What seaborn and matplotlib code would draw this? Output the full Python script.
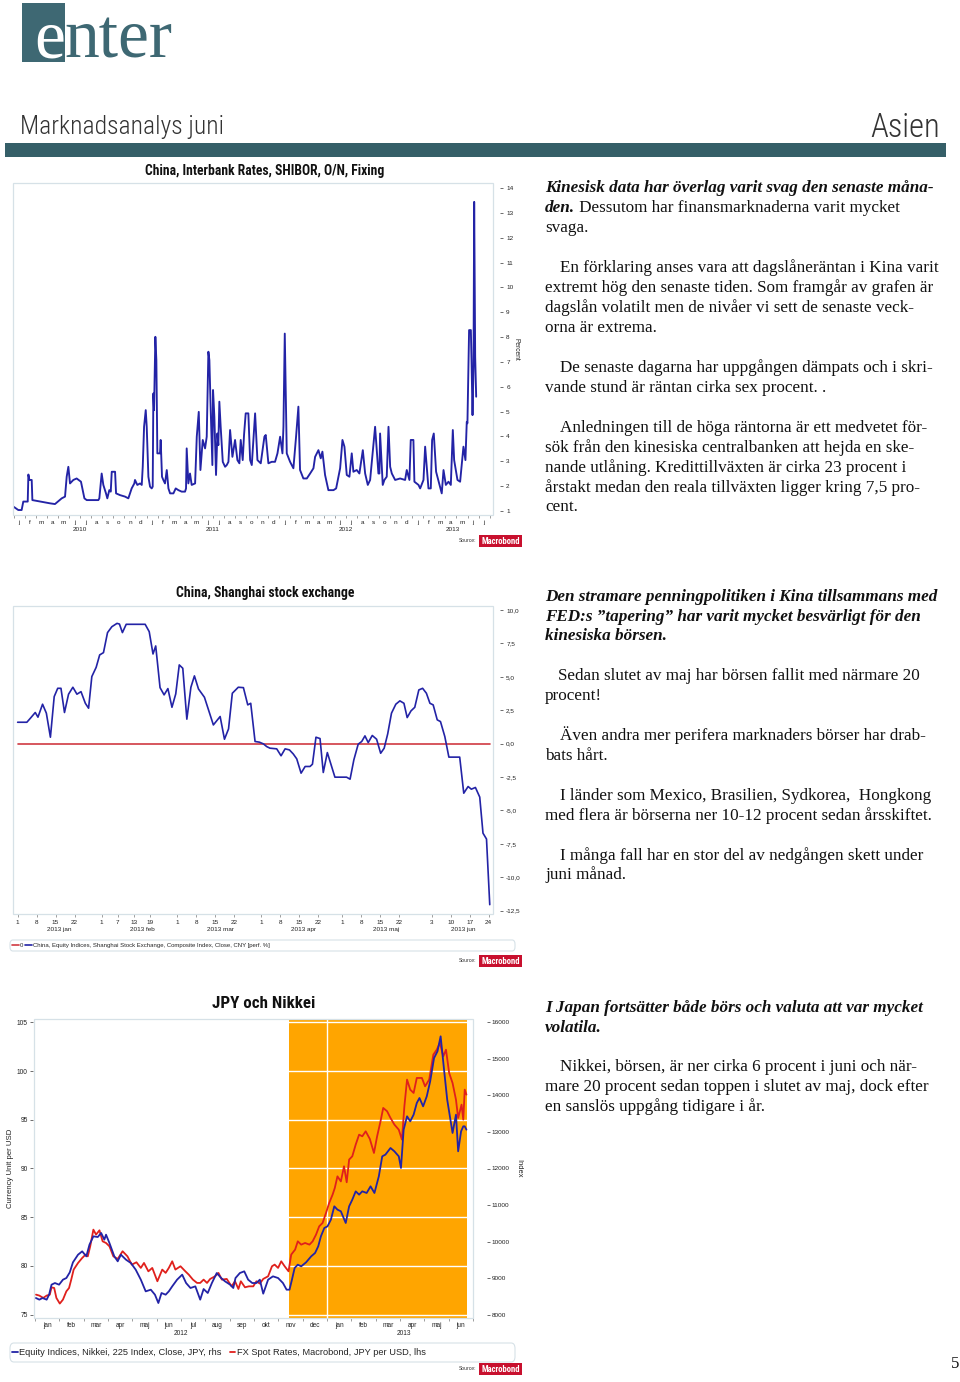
import matplotlib
matplotlib.use("Agg")
import matplotlib.pyplot as plt
import seaborn as sns
from matplotlib import font_manager
from matplotlib.font_manager import FontProperties
from matplotlib.patches import Rectangle, FancyBboxPatch

# ---------------- DATA ----------------
# Chart 1: China SHIBOR O/N fixing; x = months since 1 Jan 2010, y = percent
SHIBOR_MONTH = [0.0, 0.42, 0.72, 0.87, 1.27, 1.33, 1.42, 1.63, 1.69, 3.28, 3.73, 4.34, 4.64, 4.79, 4.94,
                5.09, 5.39, 5.69, 6.08, 6.39, 6.60, 7.65, 7.74, 7.95, 8.10, 8.34, 8.46, 8.64, 8.77, 8.86,
                9.16, 9.25, 9.61, 10.06, 10.36, 10.66, 10.90, 10.96, 11.17, 11.42, 11.57, 11.66, 11.78,
                11.93, 12.02, 12.17, 12.32, 12.47, 12.56, 12.62, 12.68, 12.80, 12.89, 12.98, 13.22, 13.28,
                13.40, 13.52, 13.67, 13.83, 13.98, 14.13, 14.43, 14.64, 14.88, 15.18, 15.48, 15.57, 15.63,
                15.78, 15.93, 16.08, 16.39, 16.54, 16.72, 16.87, 17.08, 17.29, 17.44, 17.59, 17.68, 17.80,
                17.95, 18.01, 18.13, 18.28, 18.40, 18.49, 18.58, 18.70, 18.89, 19.10, 19.25, 19.40, 19.55,
                19.76, 20.00, 20.21, 20.39, 20.51, 20.69, 20.81, 20.96, 21.20, 21.36, 21.51, 21.81, 22.02,
                22.32, 22.65, 22.77, 23.01, 23.31, 23.61, 23.83, 24.07, 24.28, 24.37, 24.49, 24.67, 24.97,
                25.27, 25.51, 25.72, 25.87, 26.17, 26.48, 26.78, 27.08, 27.23, 27.53, 27.74, 27.89, 28.13,
                28.43, 28.89, 29.13, 29.34, 29.49, 29.70, 29.88, 30.09, 30.33, 30.54, 30.69, 30.99, 31.23,
                31.54, 31.75, 31.99, 32.20, 32.65, 32.95, 33.04, 33.10, 33.34, 33.49, 33.70, 33.86, 34.01,
                34.16, 34.46, 34.91, 35.36, 35.51, 35.75, 35.87, 36.11, 36.20, 36.57, 36.72, 37.02, 37.17,
                37.47, 37.68, 37.80, 37.95, 38.16, 38.67, 38.83, 39.04, 39.28, 39.49, 39.67, 39.79, 40.09,
                40.33, 40.63, 40.81, 40.93, 40.99, 41.14, 41.30, 41.36, 41.45, 41.54, 41.60, 41.69, 41.78]
SHIBOR_RATE = [1.17, 1.04, 1.04, 1.38, 1.38, 2.47, 2.25, 2.25, 1.44, 1.31, 1.28, 1.51, 1.58, 2.38, 2.78,
               2.11, 2.25, 2.31, 2.18, 1.51, 1.44, 1.44, 1.51, 2.51, 2.05, 1.71, 1.51, 1.84, 1.78, 2.58,
               2.58, 1.71, 1.64, 1.58, 1.51, 1.91, 2.11, 2.25, 2.05, 2.11, 2.05, 2.78, 4.39,
               5.06, 4.39, 2.38, 1.98, 1.91, 1.98, 5.73, 5.06, 8.01, 7.07, 3.32, 3.32, 3.86,
               2.38, 2.25, 2.11, 2.65, 1.91, 1.71, 1.71, 1.91, 1.84, 1.78, 1.78, 1.91, 3.52,
               2.11, 2.51, 2.05, 2.11, 3.99, 4.99, 2.65, 3.86, 3.52, 3.99, 7.41, 7.07, 5.06,
               2.85, 5.87, 4.79, 2.45, 4.12, 3.65, 5.40, 4.39, 2.98, 2.78, 2.85, 2.98, 4.26,
               3.18, 3.86, 3.05, 2.92, 3.86, 3.05, 4.06, 4.93, 4.93, 3.05, 2.85, 4.93, 3.05,
               2.92, 3.99, 4.06, 2.92, 2.98, 2.98, 3.32, 3.99, 3.32, 4.39, 8.14, 3.32, 2.98,
               2.72, 3.99, 5.20, 2.65, 2.31, 2.31, 2.51, 2.72, 3.18, 3.45, 3.12, 3.39, 2.45,
               1.84, 1.84, 1.91, 2.38, 2.72, 3.86, 3.59, 2.45, 2.38, 3.32, 2.58, 2.65, 2.51,
               3.45, 2.51, 2.05, 2.25, 4.39, 2.51, 2.51, 4.12, 2.05, 2.25, 2.38, 4.39, 2.78,
               2.51, 2.25, 2.31, 2.25, 2.65, 2.25, 3.86, 3.86, 2.18, 2.05, 1.91, 2.25, 3.59,
               1.91, 1.91, 3.86, 4.12, 2.58, 1.71, 2.65, 2.05, 2.18, 2.05, 4.26, 3.05, 2.25,
               2.18, 3.59, 3.05, 4.59, 4.53, 8.28, 8.28, 7.07, 4.86, 6.80, 13.44, 7.21, 5.60]
SHIBOR_MONTH_LETTERS = ["j", "f", "m", "a", "m", "j", "j", "a", "s", "o", "n", "d"]
SHIBOR_YEARS = ["2010", "2011", "2012", "2013"]
SHIBOR_YTICKS = [1, 2, 3, 4, 5, 6, 7, 8, 9, 10, 11, 12, 13, 14]

# Chart 2: Shanghai composite, performance % ; x = days since 1 Jan 2013
SSE_DAY = [0.0, 3.4, 4.7, 6.5, 7.5, 9.2, 10.6, 12.1, 13.5, 14.8, 16.0, 17.3, 18.8, 20.4, 21.9, 23.4,
           25.0, 26.2, 27.4, 29.0, 30.3, 31.7, 33.2, 34.8, 36.7, 37.6, 38.7, 40.1, 47.1, 48.6, 50.0,
           51.0, 52.6, 54.1, 55.5, 57.0, 58.4, 59.7, 61.0, 62.5, 64.0, 65.3, 66.8, 69.0, 72.3, 74.8,
           76.4, 77.9, 79.3, 81.5, 83.4, 85.0, 86.1, 87.7, 89.3, 90.8, 92.0, 93.2, 95.7, 97.3, 98.8,
           100.4, 101.8, 103.1, 104.7, 106.2, 108.0, 108.9, 110.2, 111.7, 112.9, 114.4, 117.2, 121.5,
           122.8, 124.2, 125.8, 127.1, 128.3, 129.5, 131.0, 132.6, 134.1, 135.4, 136.7, 138.1, 139.7,
           141.2, 142.7, 143.9, 145.3, 146.7, 148.2, 149.6, 151.0, 152.3, 153.5, 155.0, 156.2, 157.8,
           159.3, 163.3, 164.8, 166.4, 167.6, 169.1, 170.7, 171.9, 173.2, 174.4]
SSE_PERF = [1.60, 1.60, 1.90, 2.33, 1.98, 2.95, 2.28, 0.48, 3.52, 4.14, 4.14, 2.33, 3.70, 4.22, 3.70, 3.89,
            3.02, 2.65, 5.02, 5.71, 6.64, 6.81, 8.31, 8.75, 9.00, 8.95, 8.31, 8.93, 8.93, 8.38, 6.71,
            7.31, 4.19, 3.65, 4.12, 2.72, 3.72, 5.89, 5.64, 1.83, 4.22, 5.07, 4.09, 3.47, 1.40, 2.03,
            0.33, 1.10, 3.77, 4.22, 4.19, 2.90, 3.02, 0.16, 0.11, -0.02, -0.22, -0.34, -0.39, -0.91, -0.39,
            -0.47, -0.77, -1.14, -2.21, -1.71, -1.71, -1.54, 0.48, 0.38, -2.16, -0.67, -2.51, -2.51,
            -2.66, -1.21, -0.04, 0.16, 0.58, 0.08, 0.61, 0.33, -0.72, -0.34, 0.73, 2.28, 2.95,
            3.20, 3.02, 1.95, 2.45, 2.72, 4.02, 4.14, 3.77, 3.02, 2.90, 1.78, 1.65, 0.53,
            -1.01, -1.01, -3.71, -3.21, -3.41, -3.28, -4.00, -6.70, -7.14, -12.05]
ZERO_DAY = [0.0, 174.4]
ZERO_VAL = [0.0, 0.0]
SSE_TICK_DAYS = [0, 7, 14, 21, 31, 37, 43, 49, 59, 66, 73, 80, 90, 97, 104, 111, 120, 127, 134, 141,
                 153, 160, 167, 174]
SSE_TICK_LABELS = ["1", "8", "15", "22", "1", "7", "13", "19", "1", "8", "15", "22", "1", "8", "15", "22",
                   "1", "8", "15", "22", "3", "10", "17", "24"]
SSE_MONTH_LABELS = ["2013 jan", "2013 feb", "2013 mar", "2013 apr", "2013 maj", "2013 jun"]
SSE_MONTH_CENTER = [15.5, 46.0, 75.0, 105.5, 136.0, 164.5]
SSE_YTICKS = [10.0, 7.5, 5.0, 2.5, 0.0, -2.5, -5.0, -7.5, -10.0, -12.5]

# Chart 3: JPY per USD (lhs) and Nikkei 225 (rhs); x = months since 1 Jan 2012
JPY_MONTH = [0.04, 0.18, 0.34, 0.48, 0.61, 0.68, 0.79, 0.88, 1.02, 1.15, 1.29, 1.40, 1.49, 1.59, 1.77, 1.94,
             2.08, 2.17, 2.27, 2.40, 2.51, 2.65, 2.78, 2.92, 3.06, 3.22, 3.40, 3.60, 3.80, 3.98, 4.17,
             4.35, 4.48, 4.66, 4.82, 5.03, 5.23, 5.37, 5.50, 5.64, 5.77, 5.98, 6.18, 6.32, 6.49, 6.66,
             6.79, 6.93, 7.07, 7.20, 7.40, 7.54, 7.68, 7.88, 8.08, 8.22, 8.36, 8.46, 8.63, 8.79, 8.97,
             9.10, 9.24, 9.38, 9.58, 9.74, 9.85, 9.99, 10.12, 10.26, 10.42, 10.53, 10.69, 10.80, 10.94,
             11.10, 11.28, 11.41, 11.55, 11.68, 11.82, 11.96, 12.09, 12.23, 12.32, 12.43, 12.57, 12.70,
             12.81, 12.91, 13.04, 13.18, 13.32, 13.45, 13.59, 13.76, 13.93, 14.06, 14.20, 14.31, 14.47,
             14.61, 14.77, 14.95, 15.08, 15.18, 15.29, 15.42, 15.56, 15.69, 15.90, 16.03, 16.20, 16.37,
             16.51, 16.64, 16.78, 16.89, 17.02, 17.16, 17.30, 17.39, 17.53, 17.60, 17.66, 17.73]
JPY_RATE = [77.05, 76.95, 76.71, 76.95, 77.05, 77.80, 77.73, 76.71, 76.13, 76.54, 77.39, 77.73, 78.59, 79.62,
            80.30, 80.81, 81.16, 80.98, 82.01, 83.72, 83.21, 83.65, 82.52, 82.35, 82.01, 80.98, 80.71,
            81.50, 80.98, 80.13, 80.37, 79.79, 80.30, 79.44, 79.79, 78.42, 79.62, 79.28, 79.79, 80.47,
            79.62, 79.96, 79.44, 79.10, 78.59, 78.25, 78.25, 78.59, 78.25, 78.66, 78.93, 79.28, 78.59,
            78.66, 77.90, 78.42, 77.63, 78.42, 77.80, 77.90, 77.90, 78.42, 78.18, 78.66, 78.93, 79.96,
            80.13, 79.79, 80.47, 79.96, 79.44, 81.16, 81.67, 82.52, 82.18, 82.35, 82.18, 82.52, 83.21,
            84.06, 84.41, 85.43, 86.46, 87.31, 87.99, 89.19, 88.67, 90.22, 88.58, 90.91, 91.25, 92.45,
            93.47, 93.30, 93.81, 93.03, 91.59, 93.30, 94.84, 96.21, 95.87, 95.18, 94.50, 93.98, 92.96,
            96.38, 99.12, 98.09, 97.75, 99.29, 99.29, 98.43, 99.12, 101.68, 102.19, 102.88, 101.51,
            102.19, 99.80, 98.77, 97.06, 95.18, 96.55, 95.01, 98.09, 97.58]
NIKKEI_MONTH = [0.04, 0.18, 0.31, 0.48, 0.58, 0.68, 0.82, 0.99, 1.15, 1.29, 1.43, 1.56, 1.77, 1.94, 2.11,
                2.24, 2.40, 2.58, 2.72, 2.85, 2.92, 3.06, 3.26, 3.40, 3.53, 3.74, 3.94, 4.14, 4.35, 4.55,
                4.76, 4.93, 5.07, 5.20, 5.37, 5.50, 5.64, 5.84, 6.05, 6.21, 6.39, 6.59, 6.79, 6.93, 7.10,
                7.27, 7.47, 7.65, 7.81, 8.02, 8.15, 8.24, 8.42, 8.60, 8.76, 8.93, 9.10, 9.24, 9.38, 9.58,
                9.78, 9.99, 10.19, 10.34, 10.46, 10.56, 10.67, 10.80, 10.94, 11.14, 11.35, 11.51, 11.64,
                11.75, 11.89, 12.02, 12.16, 12.30, 12.43, 12.57, 12.77, 12.91, 13.04, 13.18, 13.32, 13.45,
                13.63, 13.79, 13.95, 14.13, 14.27, 14.40, 14.61, 14.77, 14.95, 15.04, 15.15, 15.29, 15.42,
                15.56, 15.69, 15.80, 15.95, 16.10, 16.24, 16.40, 16.54, 16.67, 16.81, 16.94, 17.05, 17.16,
                17.30, 17.39, 17.51, 17.60, 17.66, 17.73]
NIKKEI_INDEX = [8456, 8411, 8456, 8411, 8547, 8821, 8866, 8821, 8958, 9003, 9158, 9432, 9642, 9733, 9596,
                9916, 10144, 10125, 10235, 10053, 10189, 9961, 9596, 9460, 9642, 9505, 9414, 9231, 8958,
                8638, 8684, 8547, 8319, 8593, 8547, 8638, 8775, 8958, 9095, 8866, 8730, 8775, 8411, 8702,
                8593, 8866, 9140, 9003, 8912, 8821, 8730, 9003, 9140, 9186, 8958, 8866, 8866, 8958, 8575,
                8958, 9049, 9003, 8866, 8684, 8684, 8958, 9277, 9368, 9323, 9432, 9596, 9688, 9870, 10144,
                10372, 10417, 10600, 10965, 10874, 10828, 10509, 10965, 11147, 11375, 11284, 11375, 11330,
                11512, 11330, 11786, 12333, 12379, 12561, 12470, 12333, 12014, 13063, 13428, 13291, 13473,
                13792, 13929, 13701, 13975, 14385, 15024, 15206, 15617, 14705, 13884, 13428, 12972, 13473,
                12470, 13017, 13154, 13154, 13063]
JN_MONTHS = ["jan", "feb", "mar", "apr", "maj", "jun", "jul", "aug", "sep", "okt", "nov", "dec",
             "jan", "feb", "mar", "apr", "maj", "jun"]
JN_YEARS = ["2012", "2013"]
JPY_YTICKS = [75, 80, 85, 90, 95, 100, 105]
NIKKEI_YTICKS = [8000, 9000, 10000, 11000, 12000, 13000, 14000, 15000, 16000]
SHADE_START = 10.45   # mid-November 2012
SHADE_END = 17.76

# ---------------- STYLE ----------------
sns.set_theme(style="white")
plt.rcParams["font.family"] = ["Liberation Sans", "DejaVu Sans"]
SANS = "Liberation Sans"
SERIF = "Liberation Serif"


def _w(f):
    w = f.weight
    if isinstance(w, str):
        w = font_manager.weight_dict.get(w, 400)
    return int(w)


def find_font(names, weights, stretches, fallback_family, fallback_weight):
    for stretch_pref in stretches:
        for name in names:
            for f in font_manager.fontManager.ttflist:
                if (f.name == name and f.style == "normal" and _w(f) in weights
                        and str(f.stretch) == stretch_pref):
                    return FontProperties(fname=f.fname)
    return FontProperties(family=fallback_family, weight=fallback_weight)


CAND = ["Liberation Sans Narrow", "Roboto Condensed", "Open Sans Condensed", "Noto Sans", "Open Sans",
        "Roboto", "Lato", "Inter", "DejaVu Sans"]
NARROW_BOLD = find_font(CAND, (700,), ["condensed", "semi-condensed", "extra-condensed"], SANS, "bold")
LIGHT = find_font(CAND, (200, 300), ["condensed", "semi-condensed", "normal"], SANS, "normal")

W, H = 960, 1382
fig = plt.figure(figsize=(W / 100, H / 100), dpi=100)
fig.patch.set_facecolor("white")
renderer = fig.canvas.get_renderer()

BLUE = "#2323a6"
RED = "#e0201c"
RED2 = "#d03a42"
TEAL = "#3e6873"
BAR = "#355f68"
FRAME = "#d6e1e7"
TXT = "#222222"


def fx(x):
    return x / W


def fy(y):
    return 1 - y / H


def px_axes(x0, y0, x1, y1):
    return fig.add_axes([fx(x0), fy(y1), (x1 - x0) / W, (y1 - y0) / H])


def fit_text(x, y, s, width_px, fp, **kw):
    """Place a text and scale its size so it spans width_px pixels."""
    fp = fp.copy()
    fp.set_size(10)
    t = fig.text(fx(x), fy(y), s, fontproperties=fp, **kw)
    w = t.get_window_extent(renderer=renderer).width
    fp.set_size(10 * width_px / w)
    t.set_fontproperties(fp)
    return t


def frame(ax):
    for s in ax.spines.values():
        s.set_visible(False)
    ax.add_patch(Rectangle((0, 0), 1, 1, transform=ax.transAxes, fill=False,
                           edgecolor=FRAME, lw=0.9, clip_on=False, zorder=5))


def badge(ytop):
    fig.patches.append(Rectangle((fx(479), fy(ytop + 12)), 43 / W, 12 / H,
                                 transform=fig.transFigure, facecolor="#c8102e",
                                 edgecolor="none"))
    fit_text(500.5, ytop + 6, "Macrobond", 39, NARROW_BOLD, color="white", ha="center",
             va="center")
    fig.text(fx(476), fy(ytop + 6), "Source:", color="#333333", fontsize=3.6,
             family=SANS, ha="right", va="center")


# ---------------- HEADER ----------------
fig.patches.append(Rectangle((fx(22), fy(62)), 43 / W, 59 / H, transform=fig.transFigure,
                             facecolor=TEAL, edgecolor="none"))
te = fig.text(fx(34), fy(57), "e", color="white", fontsize=50, family=SERIF, va="baseline")
ew = te.get_window_extent(renderer=renderer).width
fig.text(fx(34) + ew / W, fy(57), "nter", color=TEAL, fontsize=50, family=SERIF, va="baseline")
fit_text(20, 134, "Marknadsanalys juni", 203, LIGHT, color="#333333", va="baseline")
fit_text(870, 137, "Asien", 70, LIGHT, color="#333333", va="baseline")
fig.patches.append(Rectangle((fx(5), fy(157)), 941 / W, 14 / H, transform=fig.transFigure,
                             facecolor=BAR, edgecolor="none"))

# ---------------- CHART 1 ----------------
fit_text(265, 171, "China, Interbank Rates, SHIBOR, O/N, Fixing", 240, NARROW_BOLD, ha="center",
         va="center", color="#111111")
ax1 = px_axes(13, 183, 493, 515)
sns.lineplot(x=SHIBOR_MONTH, y=SHIBOR_RATE, ax=ax1, color=BLUE, linewidth=1.35,
             estimator=None, sort=False)
ax1.set_xlim(-0.06, 43.3)
ax1.set_ylim(0.84, 14.2)
frame(ax1)
ax1.yaxis.tick_right()
ax1.spines["right"].set_position(("outward", 5))
ax1.set_yticks(SHIBOR_YTICKS)
ax1.set_yticklabels([str(v) for v in SHIBOR_YTICKS])
ax1.tick_params(axis="y", which="major", length=2.5, width=0.6, color="#555555", pad=2,
                labelsize=4.6, labelcolor=TXT, right=True, left=False)
ax1.set_xticks([k + 0.5 for k in range(43)])
ax1.set_xticklabels([SHIBOR_MONTH_LETTERS[k % 12] for k in range(43)])
ax1.set_xticks(list(range(44)), minor=True)
ax1.tick_params(axis="x", which="major", length=0, pad=3.5, labelsize=4.6, labelcolor=TXT,
                bottom=True)
ax1.tick_params(axis="x", which="minor", length=2, width=0.5, color="#777777", bottom=True)
for i, yr in enumerate(SHIBOR_YEARS):
    xc = 12 * i + 6 if i < 3 else (36 + 43.3) / 2
    ax1.text(xc, -0.043, yr, transform=ax1.get_xaxis_transform(), ha="center", va="center",
             fontsize=4.6, color=TXT)
ax1.set_xlabel("")
ax1.set_ylabel("")
ax1.text(1.048, 0.5, "Percent", rotation=270, transform=ax1.transAxes, ha="center", va="center",
         fontsize=4.8, color=TXT)
badge(535)

# ---------------- CHART 2 ----------------
fit_text(265, 593, "China, Shanghai stock exchange", 177, NARROW_BOLD, ha="center", va="center",
         color="#111111")
ax2 = px_axes(13, 606, 493, 914)
sns.lineplot(x=ZERO_DAY, y=ZERO_VAL, ax=ax2, color=RED2, linewidth=1.2, estimator=None,
             sort=False, label="0", legend=False)
zero_line = ax2.lines[-1]
sns.lineplot(x=SSE_DAY, y=SSE_PERF, ax=ax2, color=BLUE, linewidth=1.2, estimator=None, sort=False,
             label="China, Equity Indices, Shanghai Stock Exchange, Composite Index, Close, CNY [perf. %]",
             legend=False)
sse_line = ax2.lines[-1]
ax2.set_xlim(-1.72, 175.6)
ax2.set_ylim(-12.75, 10.3)
frame(ax2)
ax2.yaxis.tick_right()
ax2.spines["right"].set_position(("outward", 5))
ax2.set_yticks(SSE_YTICKS)
ax2.set_yticklabels([f"{v:.1f}".replace(".", ",") for v in SSE_YTICKS])
ax2.tick_params(axis="y", length=2.5, width=0.6, color="#555555", pad=2, labelsize=4.6,
                labelcolor=TXT, right=True, left=False)
ax2.set_xticks(SSE_TICK_DAYS)
ax2.set_xticklabels(SSE_TICK_LABELS)
ax2.tick_params(axis="x", length=2, width=0.5, color="#777777", pad=2, labelsize=4.6,
                labelcolor=TXT, bottom=True)
for lab, xc in zip(SSE_MONTH_LABELS, SSE_MONTH_CENTER):
    ax2.text(xc, -0.05, lab, transform=ax2.get_xaxis_transform(), ha="center", va="center",
             fontsize=4.6, color=TXT)
ax2.set_xlabel("")
ax2.set_ylabel("")
fig.patches.append(FancyBboxPatch((fx(10), fy(951)), 505 / W, 11 / H, transform=fig.transFigure,
                                  boxstyle="round,pad=0,rounding_size=0.003", facecolor="white",
                                  edgecolor=FRAME, lw=0.8))
fig.legend(handles=[zero_line, sse_line], labels=[zero_line.get_label(), sse_line.get_label()],
           loc="center left", bbox_to_anchor=(fx(12), fy(945.5)), ncol=2, frameon=False,
           fontsize=4.3, handlelength=1.1, handletextpad=0.25, columnspacing=0.3,
           borderaxespad=0, borderpad=0)
badge(955)

# ---------------- CHART 3 ----------------
fit_text(264, 1004, "JPY och Nikkei", 103, NARROW_BOLD, ha="center", va="center", color="#111111")
ax3 = px_axes(34, 1019, 473, 1318)
ax3.axvspan(SHADE_START, SHADE_END, color="#ffa500", lw=0, zorder=0)
ax3.set_yticks(JPY_YTICKS)
ax3.grid(axis="y", color="white", lw=1.0)
ax3.grid(axis="x", visible=False)
ax3.set_axisbelow(True)
ax3.axvline(12, color="white", lw=1.0, zorder=0.6)
sns.lineplot(x=JPY_MONTH, y=JPY_RATE, ax=ax3, color=RED, linewidth=1.3, estimator=None, sort=False,
             label="FX Spot Rates, Macrobond, JPY per USD, lhs", legend=False)
jpy_line = ax3.lines[-1]
ax3.set_xlim(-0.04, 17.87)
ax3.set_ylim(74.65, 105.34)
ax3r = ax3.twinx()
sns.lineplot(x=NIKKEI_MONTH, y=NIKKEI_INDEX, ax=ax3r, color=BLUE, linewidth=1.3, estimator=None,
             sort=False, label="Equity Indices, Nikkei, 225 Index, Close, JPY, rhs", legend=False)
nik_line = ax3r.lines[-1]
ax3r.set_ylim(7909, 16091)
ax3r.set_xlim(-0.04, 17.87)
ax3r.grid(False)
frame(ax3)
for s in ax3r.spines.values():
    s.set_visible(False)
ax3.spines["left"].set_position(("outward", 1))
ax3r.spines["right"].set_position(("outward", 10))
ax3.set_yticklabels([str(v) for v in JPY_YTICKS])
ax3.tick_params(axis="y", length=2, width=0.6, color="#555555", pad=1.5, labelsize=4.8,
                labelcolor=TXT, left=True, right=False)
ax3r.set_yticks(NIKKEI_YTICKS)
ax3r.set_yticklabels([str(v) for v in NIKKEI_YTICKS])
ax3r.tick_params(axis="y", length=2, width=0.6, color="#555555", pad=1.5, labelsize=4.6,
                 labelcolor=TXT, right=True, left=False)
ax3.set_xticks([k + 0.5 for k in range(18)])
ax3.set_xticklabels(JN_MONTHS)
ax3.set_xticks(list(range(19)), minor=True)
ax3.tick_params(axis="x", which="major", length=0, pad=3, labelsize=4.7, labelcolor=TXT,
                bottom=True)
ax3.tick_params(axis="x", which="minor", length=2, width=0.5, color="#777777", bottom=True)
for i, yr in enumerate(JN_YEARS):
    xc = 6.0 if i == 0 else 15.15
    ax3.text(xc, -0.052, yr, transform=ax3.get_xaxis_transform(), ha="center", va="center",
             fontsize=4.7, color=TXT)
ax3.set_xlabel("")
ax3.set_ylabel("Currency Unit per USD", fontsize=5.6, color=TXT)
ax3.yaxis.set_label_coords(-0.046, 0.5)
ax3r.set_ylabel("Index", fontsize=5.4, color=TXT, rotation=270)
ax3r.yaxis.set_label_coords(1.112, 0.5)
ax3r.set_xlabel("")
fig.patches.append(FancyBboxPatch((fx(10), fy(1362)), 505 / W, 19 / H, transform=fig.transFigure,
                                  boxstyle="round,pad=0,rounding_size=0.004", facecolor="white",
                                  edgecolor=FRAME, lw=0.8))
fig.legend(handles=[nik_line, jpy_line], labels=[nik_line.get_label(), jpy_line.get_label()],
           loc="center left", bbox_to_anchor=(fx(12), fy(1352.5)), ncol=2, frameon=False,
           fontsize=6.7, handlelength=0.6, handletextpad=0.15, columnspacing=0.9,
           borderaxespad=0, borderpad=0)
badge(1363)

# ---------------- RIGHT-HAND TEXT ----------------
NORMAL = dict(family=SERIF, fontsize=12.3, color="#111111", va="baseline")
BI = dict(family=SERIF, fontsize=12.3, color="#111111", va="baseline", fontweight="bold",
          style="italic")


def put(x, y, parts):
    cur = fx(x)
    for s, st in parts:
        t = fig.text(cur, fy(y), s, **(BI if st == "b" else NORMAL))
        bb = t.get_window_extent(renderer=renderer)
        cur = cur + bb.width / W


LINES = [
    (545, 192, [("Kinesisk data har överlag varit svag den senaste måna-", "b")]),
    (545, 212, [("den.", "b"), (" Dessutom har finansmarknaderna varit mycket", "n")]),
    (545, 232, [("svaga.", "n")]),
    (560, 272, [("En förklaring anses vara att dagslåneräntan i Kina varit", "n")]),
    (545, 292, [("extremt hög den senaste tiden. Som framgår av grafen är", "n")]),
    (545, 312, [("dagslån volatilt men de nivåer vi sett de senaste veck-", "n")]),
    (545, 332, [("orna är extrema.", "n")]),
    (560, 372, [("De senaste dagarna har uppgången dämpats och i skri-", "n")]),
    (545, 392, [("vande stund är räntan cirka sex procent. .", "n")]),
    (560, 432, [("Anledningen till de höga räntorna är ett medvetet för-", "n")]),
    (545, 452, [("sök från den kinesiska centralbanken att hejda en ske-", "n")]),
    (545, 472, [("nande utlåning. Kredittillväxten är cirka 23 procent i", "n")]),
    (545, 492, [("årstakt medan den reala tillväxten ligger kring 7,5 pro-", "n")]),
    (545, 511, [("cent.", "n")]),
    (545, 601, [("Den stramare penningpolitiken i Kina tillsammans med", "b")]),
    (545, 621, [("FED:s ”tapering” har varit mycket besvärligt för den", "b")]),
    (545, 640, [("kinesiska börsen.", "b")]),
    (558, 680, [("Sedan slutet av maj har börsen fallit med närmare 20", "n")]),
    (545, 700, [("procent!", "n")]),
    (560, 740, [("Även andra mer perifera marknaders börser har drab-", "n")]),
    (545, 760, [("bats hårt.", "n")]),
    (560, 800, [("I länder som Mexico, Brasilien, Sydkorea,  Hongkong", "n")]),
    (545, 820, [("med flera är börserna ner 10-12 procent sedan årsskiftet.", "n")]),
    (560, 860, [("I många fall har en stor del av nedgången skett under", "n")]),
    (545, 879, [("juni månad.", "n")]),
    (545, 1012, [("I Japan fortsätter både börs och valuta att var mycket", "b")]),
    (545, 1032, [("volatila.", "b")]),
    (560, 1071, [("Nikkei, börsen, är ner cirka 6 procent i juni och när-", "n")]),
    (545, 1091, [("mare 20 procent sedan toppen i slutet av maj, dock efter", "n")]),
    (545, 1111, [("en sanslös uppgång tidigare i år.", "n")]),
]
for x, y, parts in LINES:
    put(x, y, parts)

fig.text(fx(955), fy(1368), "5", family=SERIF, fontsize=12, color="#111111", ha="center",
         va="baseline")

fig.savefig("out.png", dpi=100, facecolor="white")
